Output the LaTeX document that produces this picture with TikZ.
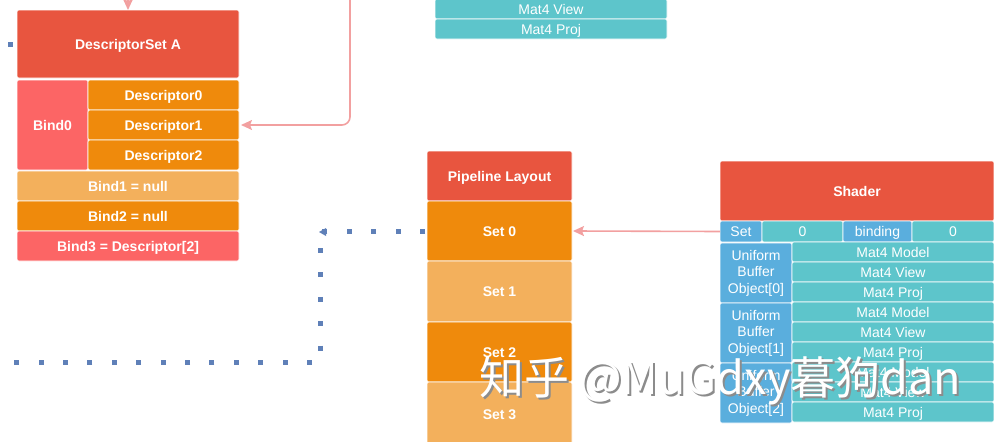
\documentclass[tikz,border=0pt]{standalone}
\usepackage{fontspec}
\setmainfont{Liberation Sans}
\newfontfamily\cjk{Noto Sans CJK SC}
\usetikzlibrary{arrows.meta}
\definecolor{hdr}{HTML}{E8553F}
\definecolor{org}{HTML}{EF8A0C}
\definecolor{lorg}{HTML}{F3B05C}
\definecolor{pnk}{HTML}{FC6565}
\definecolor{teal}{HTML}{5DC5CB}
\definecolor{blu}{HTML}{5AAEDD}
\definecolor{pk}{HTML}{F2A0A0}
\definecolor{dotc}{HTML}{5F80B8}
\begin{document}
\begin{tikzpicture}[x=1pt,y=-1pt,
  base/.style={draw=white, line width=0.6pt, rounded corners=2pt, inner sep=0pt, outer sep=0pt,
    anchor=north west, text=white, align=center},
  box/.style={base, text height=10pt, text depth=-1pt, font=\fontsize{14}{16}\selectfont\bfseries},
  cell/.style={base, text height=10pt, text depth=-1pt, font=\fontsize{14}{16}\selectfont},
  multi/.style={base, font=\fontsize{14}{16.5}\selectfont},
  pinkarrow/.style={draw=pk, line width=1.6pt, -{Stealth[length=11pt,width=10pt,inset=2pt]}},
  dots/.style={draw=dotc, line width=5pt, dash pattern=on 5pt off 19.4pt}]
\useasboundingbox (0,0) rectangle (994,442);

% DescriptorSet A
\node[box, fill=hdr, minimum width=222, minimum height=68] (dsA) at (17,10) {DescriptorSet A};
\node[box, fill=pnk, minimum width=71, minimum height=90] (bind0) at (17,80) {Bind0};
\node[box, fill=org, minimum width=151, minimum height=30] (d0) at (88,80) {Descriptor0};
\node[box, fill=org, minimum width=151, minimum height=30] (d1) at (88,110) {Descriptor1};
\node[box, fill=org, minimum width=151, minimum height=30] (d2) at (88,140) {Descriptor2};
\node[box, fill=lorg, minimum width=222, minimum height=30] (b1) at (17,171) {Bind1 = null};
\node[box, fill=org, minimum width=222, minimum height=30] (b2) at (17,201) {Bind2 = null};
\node[box, fill=pnk, minimum width=222, minimum height=30] (b3) at (17,231) {Bind3 = Descriptor[2]};

% top teal block
\node[cell, fill=teal, minimum width=232, minimum height=20] (tv) at (435,-1) {Mat4 View};
\node[cell, fill=teal, minimum width=232, minimum height=20] (tp) at (435,19) {Mat4 Proj};

% Pipeline layout
\node[box, fill=hdr, minimum width=145, minimum height=50] (pl) at (427,151) {Pipeline Layout};
\node[box, fill=org, minimum width=145, minimum height=60] (s0) at (427,201) {Set 0};
\node[box, fill=lorg, minimum width=145, minimum height=61] (s1) at (427,261) {Set 1};
\node[box, fill=org, minimum width=145, minimum height=60] (s2) at (427,322) {Set 2};
\node[box, fill=lorg, minimum width=145, minimum height=64] (s3) at (427,382) {Set 3};

% Shader
\node[box, fill=hdr, minimum width=274, minimum height=60] (sh) at (720,161) {Shader};
\node[cell, fill=blu, minimum width=42, minimum height=21] (setc) at (720,221) {Set};
\node[cell, fill=teal, minimum width=81, minimum height=21] (setv) at (762,221) {0};
\node[cell, fill=blu, minimum width=69, minimum height=21] (bindc) at (843,221) {binding};
\node[cell, fill=teal, minimum width=82, minimum height=21] (bindv) at (912,221) {0};
\foreach \i in {0,1,2}{
  \pgfmathsetmacro{\yy}{242+60*\i}
  \node[multi, fill=blu, minimum width=72, minimum height=60] (ubo\i) at (720,\yy+1) {Uniform\\Buffer\\Object[\i]};
  \node[cell, fill=teal, minimum width=202, minimum height=20] (m\i) at (792,\yy) {Mat4 Model};
  \node[cell, fill=teal, minimum width=202, minimum height=20] (v\i) at (792,\yy+20) {Mat4 View};
  \node[cell, fill=teal, minimum width=202, minimum height=20] (p\i) at (792,\yy+40) {Mat4 Proj};
}

% pink connectors
\coordinate (topin) at (128,-2);
\draw[pinkarrow] (topin) -- (dsA.north);
\coordinate (tr) at (350,-2);
\draw[pinkarrow, rounded corners=8pt] (tr) |- ([xshift=2pt]d1.east);
\draw[pinkarrow] (setc.west) -- ([xshift=1pt]s0.east);

% dotted connectors
\coordinate (c1) at (320,231);
\coordinate (c2) at (320,362);
\coordinate (c3) at (-2,362);
\draw[dots] ([xshift=-2pt]s0.west) -- (c1) -- (c2) -- (c3);
\fill[dotc] (326,228) -- (319,232) -- (326,236) -- cycle;
\coordinate (c4) at (8,44);
\draw[dots] (c4) -- (dsA.west);

% watermark
\node[anchor=base west, inner sep=0pt, font=\cjk\fontsize{45}{45}\selectfont, text=black!45] (wmshadow) at (481,396) {知乎 @MuGdxy暮狗dan};
\node[anchor=base west, inner sep=0pt, font=\cjk\fontsize{45}{45}\selectfont, text=white] (wm) at (479,394) {知乎 @MuGdxy暮狗dan};
\end{tikzpicture}
\end{document}
